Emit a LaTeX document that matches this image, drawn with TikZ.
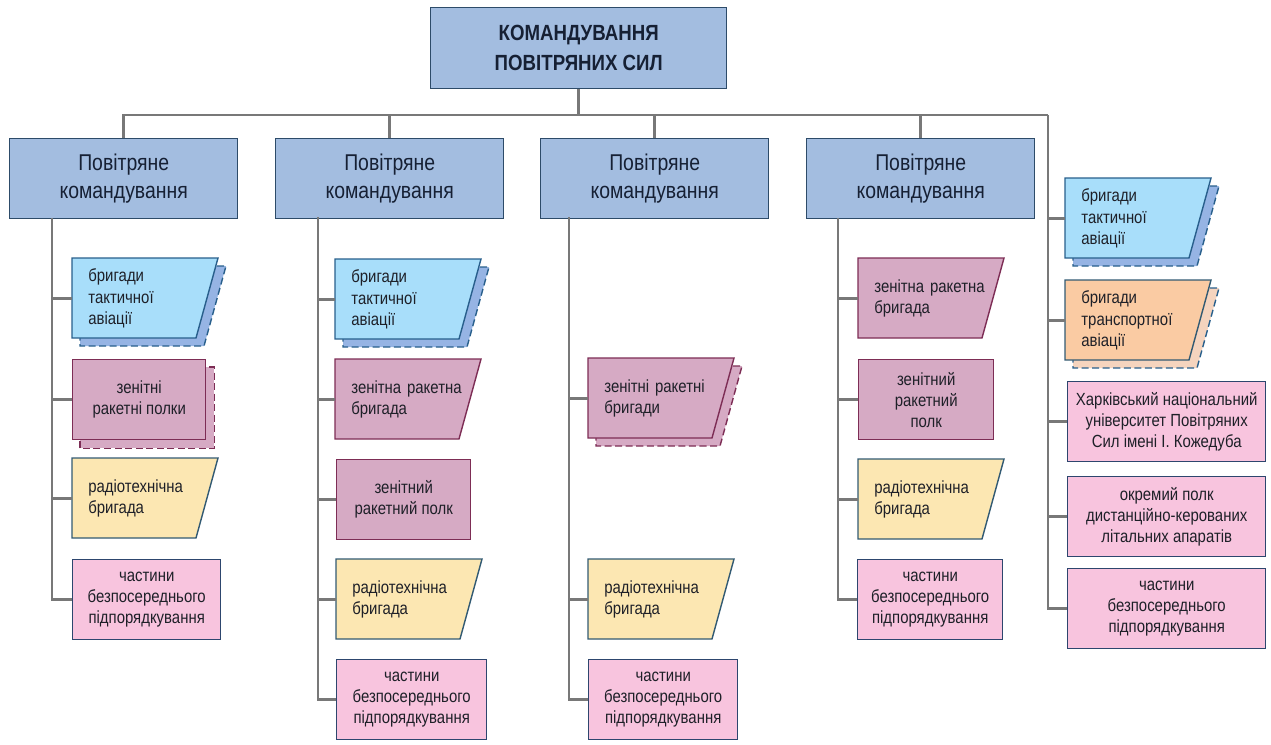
\documentclass[tikz,border=0pt]{standalone}
\usepackage{fontspec}
\setmainfont{Liberation Sans}[FakeStretch=0.85]
\usetikzlibrary{backgrounds}
\definecolor{hqfill}{RGB}{163,189,224}
\definecolor{hqline}{RGB}{45,75,105}
\definecolor{tacfill}{RGB}{168,222,250}
\definecolor{tacline}{RGB}{40,95,140}
\definecolor{tacshade}{RGB}{150,180,228}
\definecolor{zenfill}{RGB}{214,170,196}
\definecolor{zenline}{RGB}{125,45,85}
\definecolor{radfill}{RGB}{252,231,178}
\definecolor{radline}{RGB}{50,90,115}
\definecolor{unitfill}{RGB}{248,196,222}
\definecolor{unitline}{RGB}{45,70,110}
\definecolor{orfill}{RGB}{250,203,163}
\definecolor{orshade}{RGB}{245,212,190}
\definecolor{linegray}{RGB}{120,120,120}
\definecolor{ink}{RGB}{30,32,40}
\definecolor{navy}{RGB}{22,32,52}
\def\px{0.02cm}
\def\slantpath#1{(#1.north west) -- ++(146,0) -- ++(-22,80) -- ++(-124,0) -- cycle}

\begin{document}
\begin{tikzpicture}[x=0.02cm, y=-0.02cm,
    box/.style={draw, line width=0.8pt, minimum height=80*\px, inner sep=0pt,
      anchor=north west, text=ink},
    hq/.style={box, fill=hqfill, draw=hqline, minimum width=296*\px,
      minimum height=81*\px, align=center, text=navy,
      font=\bfseries\fontsize{12.5}{17}\selectfont},
    cmd/.style={box, fill=hqfill, draw=hqline, minimum width=228*\px,
      align=center, text=navy, font=\fontsize{13}{16}\selectfont},
    unit/.style={box, align=center, font=\fontsize{10}{12}\selectfont},
    zen/.style={fill=zenfill, draw=zenline},
    pinkunit/.style={fill=unitfill, draw=unitline},
    slant/.style={anchor=north west, minimum height=80*\px, inner xsep=16*\px,
      inner ysep=0pt, text width=118*\px, align=left, text=ink,
      font=\fontsize{10}{12}\selectfont},
    link/.style={draw=linegray, line width=1.4pt},
    shade/.style={line width=0.8pt, dash pattern=on 4pt off 2pt}
  ]
  \useasboundingbox (0,0) rectangle (1271,744);

  \node[hq] (hq) at (430,7) {КОМАНДУВАННЯ\\ПОВІТРЯНИХ СИЛ};

  % first air command
  \node[cmd] (h1) at (9,138) {Повітряне\\командування};
  \node[slant] (c1a) at (72,258) {бригади\\тактичної\\авіації};
  \node[unit, zen, minimum width=133*\px] (c1b) at (72,359) {зенітні\\ракетні полки};
  \node[slant] (c1c) at (72,458) {радіотехнічна\\бригада};
  \node[unit, pinkunit, minimum width=148*\px] (c1d) at (72,559) {частини\\безпосереднього\\підпорядкування};

  % second air command
  \node[cmd] (h2) at (275,138) {Повітряне\\командування};
  \node[slant] (c2a) at (335,259) {бригади\\тактичної\\авіації};
  \node[slant] (c2b) at (335,359) {зенітна ракетна\\бригада};
  \node[unit, zen, minimum width=134*\px] (c2c) at (336,459) {зенітний\\ракетний полк};
  \node[slant] (c2d) at (336,559) {радіотехнічна\\бригада};
  \node[unit, pinkunit, minimum width=150*\px] (c2e) at (336,659) {частини\\безпосереднього\\підпорядкування};

  % third air command
  \node[cmd] (h3) at (540,138) {Повітряне\\командування};
  \node[slant] (c3a) at (588,358) {зенітні ракетні\\бригади};
  \node[slant] (c3b) at (588,559) {радіотехнічна\\бригада};
  \node[unit, pinkunit, minimum width=149*\px] (c3c) at (588,659) {частини\\безпосереднього\\підпорядкування};

  % fourth air command
  \node[cmd] (h4) at (806,138) {Повітряне\\командування};
  \node[slant] (c4a) at (858,258) {зенітна ракетна\\бригада};
  \node[unit, zen, minimum width=135*\px] (c4b) at (858,359) {зенітний\\ракетний\\полк};
  \node[slant] (c4c) at (858,459) {радіотехнічна\\бригада};
  \node[unit, pinkunit, minimum width=145*\px] (c4d) at (857,559) {частини\\безпосереднього\\підпорядкування};

  % direct subordination
  \node[slant] (c5a) at (1065,178) {бригади\\тактичної\\авіації};
  \node[slant] (c5b) at (1065,280) {бригади\\транспортної\\авіації};
  \node[unit, pinkunit, minimum width=198*\px] (c5c) at (1067,381) {Харківський національний\\університет Повітряних\\Сил імені І. Кожедуба};
  \node[unit, pinkunit, minimum width=198*\px] (c5d) at (1067,476) {окремий полк\\дистанційно-керованих\\літальних апаратів};
  \node[unit, pinkunit, minimum width=198*\px] (c5e) at (1067,568) {частини\\безпосереднього\\підпорядкування};

  \begin{scope}[on background layer]
    \begin{scope}[transform canvas={xshift=8*\px, yshift=-8*\px}]
      \foreach \n in {c1a,c2a,c5a}
        \filldraw[shade, fill=tacshade, draw=tacline] \slantpath{\n};
      \filldraw[shade, zen] \slantpath{c3a};
      \filldraw[shade, fill=orshade, draw=tacline] \slantpath{c5b};
      \filldraw[shade, zen] (c1b.south west) rectangle (c1b.north east);
    \end{scope}
    \foreach \n in {c1a,c2a,c5a}
      \filldraw[line width=0.8pt, fill=tacfill, draw=tacline] \slantpath{\n};
    \foreach \n in {c2b,c3a,c4a}
      \filldraw[line width=0.8pt, zen] \slantpath{\n};
    \foreach \n in {c1c,c2d,c3b,c4c}
      \filldraw[line width=0.8pt, fill=radfill, draw=radline] \slantpath{\n};
    \filldraw[line width=0.8pt, fill=orfill, draw=radline] \slantpath{c5b};
  \end{scope}

  \coordinate (s1) at (52,218);
  \coordinate (s2) at (318,217);
  \coordinate (s3) at (569,217);
  \coordinate (s4) at (838,218);
  \coordinate (s5) at (1048,115);

  \draw[link] (hq.south) |- (s5);
  \foreach \h in {h1,h2,h3,h4}
    \draw[link] (hq.south |- s5) -| (\h.north);
  \foreach \c in {c1a,c1b,c1c,c1d}
    \draw[link] (s1) |- (\c.west);
  \foreach \c in {c2a,c2b,c2c,c2d,c2e}
    \draw[link] (s2) |- (\c.west);
  \foreach \c in {c3a,c3b,c3c}
    \draw[link] (s3) |- (\c.west);
  \foreach \c in {c4a,c4b,c4c,c4d}
    \draw[link] (s4) |- (\c.west);
  \foreach \c in {c5a,c5b,c5c,c5d,c5e}
    \draw[link] (s5) |- (\c.west);
\end{tikzpicture}
\end{document}
